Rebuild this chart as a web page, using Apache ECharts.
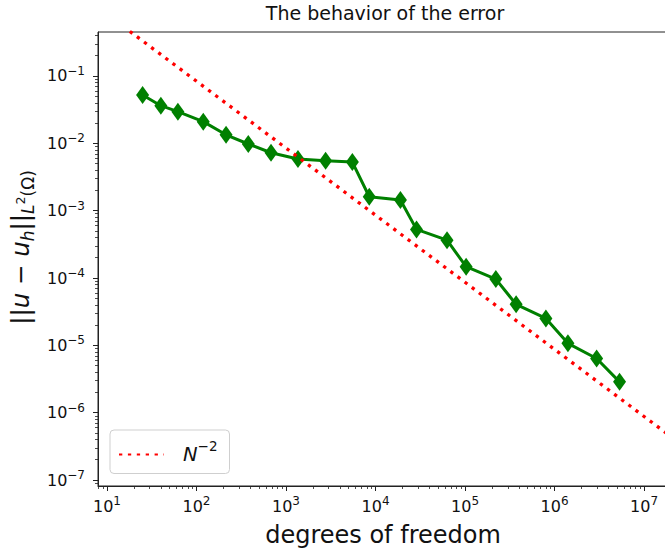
<!DOCTYPE html>
<html>
<head>
<meta charset="utf-8">
<script src="https://cdn.jsdelivr.net/npm/echarts@6/dist/echarts.min.js"></script>
<style>
  html, body { margin: 0; padding: 0; background: #fff; }
  #chart { width: 665px; height: 552px; }
</style>
</head>
<body>
<div id="chart"></div>
<script>
// Degrees of freedom and the measured L2 error
const dofs = [25, 40, 62, 119, 214, 379, 680, 1360, 2770, 5510, 8510,
  18970, 28700, 62900, 102800, 220800, 372000, 800000, 1410000, 2950000, 5320000];
const errors = [0.0523, 0.0362, 0.0295, 0.0210, 0.0134, 0.00977, 0.00725, 0.00584,
  0.00551, 0.00527, 0.00161, 0.00144, 5.27e-4, 3.65e-4, 1.47e-4, 9.63e-5,
  4.06e-5, 2.51e-5, 1.07e-5, 6.38e-6, 2.87e-6];

// Reference rate line, labelled N^-2
const rateDofs = [18, 1000, 2e7];
const rateValues = [0.46, 0.0085, 4.4e-7];

// Major tick positions (powers of ten)
const xMajorTicks = [1e1, 1e2, 1e3, 1e4, 1e5, 1e6, 1e7];
const yMajorTicks = [1e-7, 1e-6, 1e-5, 1e-4, 1e-3, 1e-2, 1e-1];

const X_MIN = 7.94, X_MAX = 1.85e7;
const Y_MIN = 8.15e-8, Y_MAX = 0.45;

function minorTicks(lo, hi) {
  const out = [];
  for (let e = Math.floor(Math.log10(lo)); e <= Math.ceil(Math.log10(hi)); e++) {
    for (let m = 2; m <= 9; m++) {
      const v = m * Math.pow(10, e);
      if (v >= lo && v <= hi) out.push(v);
    }
  }
  return out;
}

const FONT = 'DejaVu Sans';
const INK = '#111';

function expText(v) {
  const e = Math.round(Math.log10(v));
  return e < 0 ? '\u2212' + (-e) : String(e);
}
// Power-of-ten tick label: base "10" with a raised exponent
function powLabel(v) {
  return '{b|10}{s|' + expText(v) + '}';
}
function tickLabel(margin) {
  return {
    show: true, margin: margin,
    fontFamily: FONT, fontSize: 16, color: INK,
    formatter: powLabel,
    rich: {
      b: { fontFamily: FONT, fontSize: 16, lineHeight: 22, color: INK },
      s: { fontFamily: FONT, fontSize: 12, verticalAlign: 'top', color: INK }
    }
  };
}

function majorAxis(extra) {
  return Object.assign({
    type: 'log', logBase: 10, gridIndex: 0,
    splitLine: { show: false },
    axisLine: { show: true, lineStyle: { color: '#222', width: 1 } },
    minorTick: { show: false }
  }, extra);
}
function minorAxis(extra) {
  return Object.assign({
    type: 'log', logBase: 10, gridIndex: 0,
    splitLine: { show: false },
    axisLine: { show: false },
    axisLabel: { show: false }
  }, extra);
}

const chart = echarts.init(document.getElementById('chart'), null, { renderer: 'svg' });

chart.setOption({
  animation: false,
  backgroundColor: '#fff',
  title: {
    text: 'The behavior of the error',
    left: 385, top: 3, textAlign: 'center', padding: 0,
    textStyle: { fontFamily: FONT, fontSize: 19, fontWeight: 'normal', color: INK }
  },
  grid: {
    left: 98, top: 32, right: -3, bottom: 66,
    containLabel: false, outerBoundsMode: 'none',
    show: true, borderColor: '#222', borderWidth: 1, backgroundColor: 'transparent'
  },
  legend: {
    show: true,
    left: 110, top: 430,
    orient: 'vertical',
    backgroundColor: '#fff',
    borderColor: '#cfcfcf', borderWidth: 1, borderRadius: 4,
    padding: [9, 12, 9, 8],
    itemWidth: 45, itemHeight: 14, itemGap: 0,
    itemStyle: { opacity: 0, color: 'transparent', borderWidth: 0 },
    data: ['N^-2'],
    formatter: () => '{n|N}{s|\u22122}',
    textStyle: {
      fontFamily: FONT, fontSize: 19.5, color: INK,
      padding: [0, 0, 0, 14],
      rich: {
        n: { fontFamily: FONT, fontStyle: 'italic', fontSize: 19.5, lineHeight: 31, color: INK },
        s: { fontFamily: FONT, fontSize: 13.5, verticalAlign: 'top', color: INK }
      }
    }
  },
  xAxis: [
    majorAxis({
      min: X_MIN, max: X_MAX, position: 'bottom',
      axisTick: { show: true, inside: false, length: 5, customValues: xMajorTicks, lineStyle: { color: '#222', width: 1 } },
      axisLabel: Object.assign(tickLabel(9), { customValues: xMajorTicks }),
      name: 'degrees of freedom', nameLocation: 'middle', nameGap: 37,
      nameTextStyle: { fontFamily: FONT, fontSize: 24, color: INK }
    }),
    minorAxis({ min: X_MIN, max: X_MAX, position: 'bottom',
      axisTick: { show: true, inside: false, length: 3, customValues: minorTicks(X_MIN, X_MAX), lineStyle: { color: '#222', width: 0.8 } } })
  ],
  yAxis: [
    majorAxis({
      min: Y_MIN, max: Y_MAX, position: 'left',
      axisTick: { show: true, inside: false, length: 5, customValues: yMajorTicks, lineStyle: { color: '#222', width: 1 } },
      axisLabel: Object.assign(tickLabel(13), { customValues: yMajorTicks }),
      name: '{t|||}{i|u}{t| \u2212 }{i|u}{sub|h}{t|||}{sub|L}{sup|2}{subn|(\u03a9)}',
      nameLocation: 'middle', nameRotate: 90, nameGap: 56,
      nameTextStyle: {
        fontFamily: FONT, fontSize: 24.5, color: INK,
        padding: [0, 0, 0, 23],
        rich: {
          t: { fontFamily: FONT, fontSize: 24.5, lineHeight: 31, color: INK },
          i: { fontFamily: FONT, fontSize: 24.5, fontStyle: 'italic', lineHeight: 31, color: INK },
          sub: { fontFamily: FONT, fontSize: 17, fontStyle: 'italic', verticalAlign: 'bottom', color: INK },
          subn: { fontFamily: FONT, fontSize: 17, verticalAlign: 'bottom', color: INK },
          sup: { fontFamily: FONT, fontSize: 12.5, lineHeight: 31, color: INK }
        }
      }
    }),
    minorAxis({ min: Y_MIN, max: Y_MAX, position: 'left',
      axisTick: { show: true, inside: false, length: 3, customValues: minorTicks(Y_MIN, Y_MAX), lineStyle: { color: '#222', width: 0.8 } } })
  ],
  series: [
    {
      name: 'error',
      type: 'line',
      xAxisIndex: 0, yAxisIndex: 0,
      data: dofs.map((d, i) => [d, errors[i]]),
      lineStyle: { color: '#008000', width: 3 },
      itemStyle: { color: '#008000' },
      symbol: 'diamond', symbolSize: [13, 18], showSymbol: true,
      z: 2
    },
    {
      name: 'N^-2',
      type: 'line',
      xAxisIndex: 0, yAxisIndex: 0,
      data: rateDofs.map((d, i) => [d, rateValues[i]]),
      lineStyle: { color: '#ff0000', width: 3.3, type: [3.3, 5.6], cap: 'butt' },
      itemStyle: { color: '#ff0000' },
      symbol: 'none',
      clip: true,
      z: 3
    }
  ]
});
</script>
</body>
</html>
